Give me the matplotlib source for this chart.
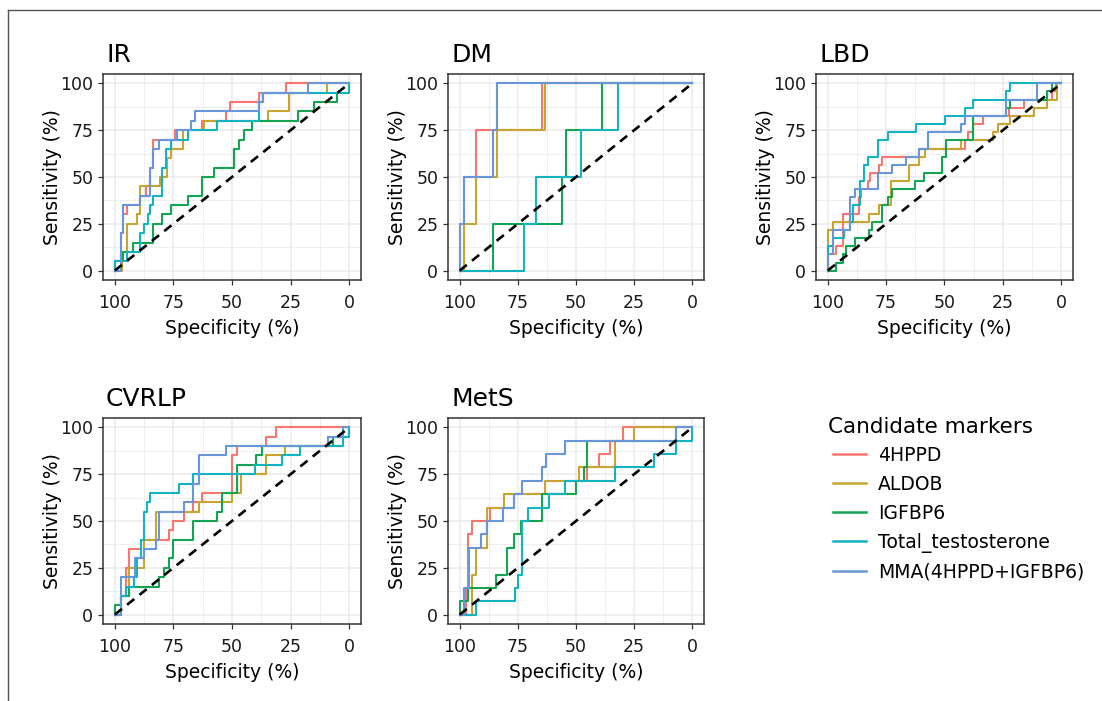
"""
ROC curves of candidate markers for five outcomes (IR, DM, LBD, CVRLP, MetS)
"""

import matplotlib as mpl
import matplotlib.pyplot as plt
from matplotlib.lines import Line2D

mpl.use("Agg")

markers = ["4HPPD", "ALDOB", "IGFBP6", "Total_testosterone", "MMA(4HPPD+IGFBP6)"]
colors = ["#F8766D", "#C9A430", "#14A552", "#13B3C2", "#6797D8"]

panels = ["IR", "DM", "LBD", "CVRLP", "MetS"]

# ROC points: specificity (%) / sensitivity (%) per panel, per marker
# --- IR ---
ir_4hppd_spec = [100, 100, 97.5, 96.3, 94.6, 89.4, 86.5, 85.1, 83.7, 74.2, 63.0, 52.5, 50.7, 38.4, 26.9, 0]
ir_4hppd_sens = [0, 5, 20, 30, 35, 40, 45, 55, 70, 75, 80, 85, 90, 95, 100, 100]
ir_aldob_spec = [100, 96.7, 94.6, 90.4, 89.4, 80.9, 77.9, 76.2, 71.0, 62.0, 34.6, 25.9, 9.3, 0]
ir_aldob_sens = [0, 10, 25, 30, 45, 50, 60, 65, 75, 80, 85, 95, 100, 100]
ir_igfbp6_spec = [100, 100, 96.3, 92.1, 83.7, 79.7, 75.8, 68.8, 63.0, 57.8, 49.3, 46.9, 45.0, 41.4, 22.0, 14.9, 5.4, 0]
ir_igfbp6_sens = [0, 5, 10, 15, 25, 30, 35, 40, 50, 55, 65, 70, 75, 80, 85, 90, 95, 100]
ir_testo_spec = [100, 100, 94.6, 89.4, 87.5, 85.7, 85.1, 83.7, 79.7, 78.2, 75.8, 68.7, 56.4, 38.4, 36.8, 0]
ir_testo_sens = [0, 5, 10, 20, 25, 30, 35, 40, 55, 65, 70, 75, 80, 90, 95, 100]
ir_mma_spec = [100, 97.5, 96.3, 89.4, 85.1, 83.7, 81.2, 73.4, 67.3, 65.6, 38.4, 36.8, 17.8, 0]
ir_mma_sens = [0, 20, 35, 40, 55, 65, 70, 75, 80, 85, 90, 95, 100, 100]

# --- DM ---
dm_4hppd_spec = [100, 98.3, 92.8, 64.6, 0]
dm_4hppd_sens = [0, 50, 75, 100, 100]
dm_aldob_spec = [100, 98.3, 92.8, 84.1, 63.2, 0]
dm_aldob_sens = [0, 25, 50, 75, 100, 100]
dm_igfbp6_spec = [100, 85.8, 56.1, 54.5, 38.9, 0]
dm_igfbp6_sens = [0, 25, 50, 75, 100, 100]
dm_testo_spec = [100, 72.2, 67.2, 47.9, 32.1, 0]
dm_testo_sens = [0, 25, 50, 75, 100, 100]
dm_mma_spec = [100, 100, 98.3, 85.8, 84.1, 0]
dm_mma_sens = [0, 25, 50, 75, 100, 100]

# --- LBD ---
lbd_4hppd_spec = [100, 100, 96.3, 93.6, 86.8, 85.9, 82.6, 81.8, 78.0, 76.9, 60.9, 41.4, 40.0, 37.9, 33.6, 22.3, 15.9, 3.8, 2.4, 0]
lbd_4hppd_sens = [0, 8.7, 13.0, 30.4, 39.1, 43.5, 47.8, 52.2, 56.5, 60.9, 65.2, 69.6, 73.9, 78.3, 82.6, 87.0, 91.3, 95.7, 100, 100]
lbd_aldob_spec = [100, 100, 97.9, 82.3, 78.0, 72.9, 65.1, 61.1, 58.4, 42.8, 29.4, 27.2, 22.0, 11.9, 6.2, 2.0, 0]
lbd_aldob_sens = [0, 21.7, 26.1, 30.4, 34.8, 47.8, 56.5, 60.9, 65.2, 69.6, 73.9, 78.3, 82.6, 87.0, 91.3, 100, 100]
lbd_igfbp6_spec = [100, 96.3, 93.6, 92.1, 88.2, 82.3, 80.9, 76.6, 74.3, 72.6, 62.7, 58.9, 50.9, 49.2, 37.9, 23.7, 21.8, 6.0, 3.8, 0]
lbd_igfbp6_sens = [0, 4.3, 8.7, 13.0, 17.4, 21.7, 26.1, 34.8, 39.1, 43.5, 47.8, 52.2, 60.9, 69.6, 82.6, 87.0, 91.3, 95.7, 100, 100]
lbd_testo_spec = [100, 100, 97.9, 92.9, 90.6, 89.2, 86.1, 84.4, 82.6, 78.3, 74.3, 62.3, 49.9, 41.4, 37.9, 23.7, 22.0, 0]
lbd_testo_sens = [0, 13.0, 17.4, 21.7, 26.1, 34.8, 47.8, 56.5, 60.9, 69.6, 73.9, 78.3, 82.6, 87.0, 91.3, 95.7, 100, 100]
lbd_mma_spec = [100, 100, 97.9, 90.4, 88.2, 78.3, 72.6, 66.5, 61.1, 57.0, 42.8, 41.4, 23.7, 10.2, 0]
lbd_mma_sens = [0, 8.7, 21.7, 39.1, 43.5, 52.2, 56.5, 60.9, 65.2, 73.9, 78.3, 82.6, 91.3, 100, 100]

# --- CVRLP ---
cv_4hppd_spec = [100, 97.5, 95.3, 93.9, 89.0, 76.9, 75.1, 70.3, 66.6, 62.7, 50.0, 47.9, 35.4, 31.2, 0]
cv_4hppd_sens = [0, 10, 25, 35, 40, 45, 50, 55, 60, 65, 85, 90, 95, 100, 100]
cv_aldob_spec = [100, 97.5, 93.9, 87.5, 82.6, 63.9, 50.0, 46.0, 35.4, 27.3, 8.9, 0]
cv_aldob_sens = [0, 10, 25, 40, 55, 60, 65, 75, 85, 90, 95, 100]
cv_igfbp6_spec = [100, 100, 97.5, 93.9, 81.2, 78.8, 76.9, 75.1, 66.6, 56.4, 54.2, 47.9, 39.8, 37.3, 6.8, 0]
cv_igfbp6_sens = [0, 5, 10, 15, 20, 25, 30, 40, 50, 55, 65, 80, 85, 90, 95, 100]
cv_testo_spec = [100, 97.5, 95.3, 91.8, 90.4, 89.0, 87.5, 86.4, 85.0, 72.7, 66.6, 40.1, 28.8, 21.0, 2.5, 0]
cv_testo_sens = [0, 10, 15, 20, 30, 40, 55, 60, 65, 70, 75, 80, 85, 90, 95, 100]
cv_mma_spec = [100, 97.5, 91.4, 87.5, 82.6, 81.2, 70.3, 66.6, 63.9, 52.5, 8.9, 2.5, 0]
cv_mma_sens = [0, 20, 30, 35, 40, 55, 60, 70, 85, 90, 95, 100, 100]

# --- MetS ---
ms_4hppd_spec = [100, 97.3, 96.3, 94.9, 86.9, 76.7, 50.0, 45.2, 40.2, 35.2, 29.8, 0]
ms_4hppd_sens = [0, 14.3, 42.9, 50.0, 57.1, 64.3, 71.4, 78.6, 85.7, 92.9, 100, 100]
ms_aldob_spec = [100, 94.9, 92.8, 88.4, 81.0, 63.2, 48.6, 33.4, 24.9, 0]
ms_aldob_sens = [0, 21.4, 35.7, 57.1, 64.3, 71.4, 78.6, 92.9, 100, 100]
ms_igfbp6_spec = [100, 100, 96.3, 84.5, 79.5, 76.7, 73.6, 64.6, 50.0, 46.6, 45.2, 7.1, 0]
ms_igfbp6_sens = [0, 7.1, 14.3, 21.4, 35.7, 42.9, 50.0, 64.3, 71.4, 78.6, 92.9, 100, 100]
ms_testo_spec = [100, 92.8, 76.0, 75.0, 73.2, 70.8, 61.8, 54.7, 33.4, 16.3, 7.1, 0]
ms_testo_sens = [0, 7.1, 14.3, 21.4, 50.0, 57.1, 64.3, 71.4, 78.6, 85.7, 92.9, 100]
ms_mma_spec = [100, 98.0, 95.9, 90.9, 88.4, 81.3, 76.7, 73.2, 64.6, 62.9, 54.7, 7.1, 0]
ms_mma_sens = [0, 14.3, 35.7, 42.9, 50.0, 57.1, 64.3, 71.4, 78.6, 85.7, 92.9, 100, 100]

curves = {
    "IR": [(ir_4hppd_spec, ir_4hppd_sens), (ir_aldob_spec, ir_aldob_sens), (ir_igfbp6_spec, ir_igfbp6_sens),
           (ir_testo_spec, ir_testo_sens), (ir_mma_spec, ir_mma_sens)],
    "DM": [(dm_4hppd_spec, dm_4hppd_sens), (dm_aldob_spec, dm_aldob_sens), (dm_igfbp6_spec, dm_igfbp6_sens),
           (dm_testo_spec, dm_testo_sens), (dm_mma_spec, dm_mma_sens)],
    "LBD": [(lbd_4hppd_spec, lbd_4hppd_sens), (lbd_aldob_spec, lbd_aldob_sens), (lbd_igfbp6_spec, lbd_igfbp6_sens),
            (lbd_testo_spec, lbd_testo_sens), (lbd_mma_spec, lbd_mma_sens)],
    "CVRLP": [(cv_4hppd_spec, cv_4hppd_sens), (cv_aldob_spec, cv_aldob_sens), (cv_igfbp6_spec, cv_igfbp6_sens),
              (cv_testo_spec, cv_testo_sens), (cv_mma_spec, cv_mma_sens)],
    "MetS": [(ms_4hppd_spec, ms_4hppd_sens), (ms_aldob_spec, ms_aldob_sens), (ms_igfbp6_spec, ms_igfbp6_sens),
             (ms_testo_spec, ms_testo_sens), (ms_mma_spec, ms_mma_sens)],
}

W, H = 1102, 701
fig = plt.figure(figsize=(W / 100, H / 100), dpi=100)
fig.patch.set_facecolor("white")

# panel boxes in pixels: left, top, right, bottom
boxes = {
    "IR": (103, 74, 361, 280),
    "DM": (448, 74, 704, 280),
    "LBD": (816, 74, 1073, 280),
    "CVRLP": (103, 418, 361, 624),
    "MetS": (448, 418, 704, 624),
}

ticks = [100, 75, 50, 25, 0]
minor = [87.5, 62.5, 37.5, 12.5]

for name in panels:
    l, t, r, b = boxes[name]
    ax = fig.add_axes([l / W, 1 - b / H, (r - l) / W, (b - t) / H])
    ax.set_xlim(105, -5)
    ax.set_ylim(-5, 105)
    ax.set_xticks(ticks)
    ax.set_yticks(ticks)
    ax.set_xticks(minor, minor=True)
    ax.set_yticks(minor, minor=True)
    ax.grid(which="major", color="#EBEBEB", linewidth=1.1)
    ax.grid(which="minor", color="#EBEBEB", linewidth=0.6)
    ax.set_axisbelow(True)
    ax.tick_params(which="minor", length=0)
    ax.tick_params(which="major", length=3.5, width=0.9, color="#333333",
                   labelsize=12.5, labelcolor="#1A1A1A")
    ax.tick_params(axis="x", which="major", pad=6.5)
    ax.tick_params(axis="y", which="major", pad=3.5)
    for sp in ax.spines.values():
        sp.set_color("#333333")
        sp.set_linewidth(1.1)

    for (spec, sens), col in zip(curves[name], colors):
        ax.plot(spec, sens, drawstyle="steps-post", color=col, linewidth=1.5)

    ax.plot([100, 0], [0, 100], color="black", linewidth=1.9, linestyle=(0, (3.5, 2.5)))

    ax.set_xlabel("Specificity (%)", fontsize=13.5, labelpad=5)
    ax.set_ylabel("Sensitivity (%)", fontsize=13.5, labelpad=-1.5)
    ax.text(0.012, 1.035, name, transform=ax.transAxes, fontsize=18, ha="left", va="bottom")

# legend
fig.text(828 / W, 1 - 427 / H, "Candidate markers", fontsize=15.5, ha="left", va="center")
handles = [Line2D([], [], color=c, linewidth=1.8) for c in colors]
leg = fig.legend(handles, markers, loc="upper left", bbox_to_anchor=(833 / W, 1 - 446 / H),
                 frameon=False, fontsize=13.5, borderaxespad=0, borderpad=0,
                 handlelength=1.76, handletextpad=0.64, labelspacing=0.53)

# outer frame (top and left)
fig.add_artist(Line2D([8 / W, 1], [1 - 10 / H, 1 - 10 / H], color="#555555", linewidth=1.0))
fig.add_artist(Line2D([8 / W, 8 / W], [0, 1 - 10 / H], color="#555555", linewidth=1.0))

plt.savefig("out.png", dpi=100, facecolor="white")
